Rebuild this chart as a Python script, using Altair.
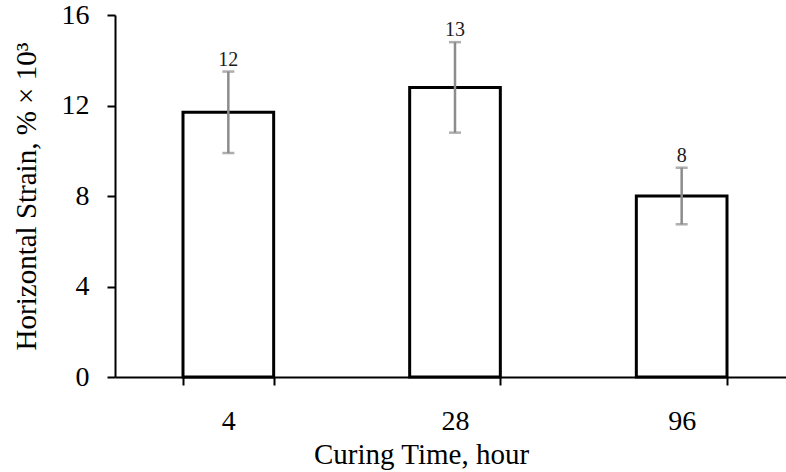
import altair as alt
import pandas as pd

# Curing time groups, mean horizontal strain and its standard deviation
curing_time = ["4", "28", "96"]
strain_mean = [11.7, 12.8, 8.0]
strain_sd = [1.8, 2.0, 1.25]
y_ticks = [0, 4, 8, 12, 16]

df = pd.DataFrame({"time": curing_time, "mean": strain_mean, "sd": strain_sd})
df["lo"] = df["mean"] - df["sd"]
df["hi"] = df["mean"] + df["sd"]

FONT = "'Liberation Serif', 'Times New Roman', serif"
ERR_COLOR = "#8c8c8c"

x = alt.X(
    "time:N",
    sort=curing_time,
    scale=alt.Scale(range=[0, 680], paddingInner=0.6, paddingOuter=0.3),
    axis=alt.Axis(
        title="Curing Time, hour",
        labelAngle=0,
        labelPadding=22,
        tickBand="extent",
        titleX=306,
        titleY=86,
        titleAlign="center",
    ),
)

y_scale = alt.Scale(domain=[0, 16], nice=False)
y_axis = alt.Axis(
    title="Horizontal Strain, % × 10³",
    values=y_ticks,
    labelPadding=18,
    titleX=-80,
)

base = alt.Chart(df)

bars = base.mark_bar(fill="white", stroke="black", strokeWidth=3).encode(
    x=x,
    y=alt.Y("mean:Q", scale=y_scale, axis=y_axis),
)

err_line = base.mark_rule(color=ERR_COLOR, strokeWidth=2.5).encode(
    x=alt.X("time:N", sort=curing_time),
    y="lo:Q",
    y2="hi:Q",
)

cap_hi = base.mark_tick(color=ERR_COLOR, thickness=2.5, size=12, orient="horizontal").encode(
    x=alt.X("time:N", sort=curing_time),
    y="hi:Q",
)
cap_lo = base.mark_tick(color=ERR_COLOR, thickness=2.5, size=12, orient="horizontal").encode(
    x=alt.X("time:N", sort=curing_time),
    y="lo:Q",
)

labels = base.mark_text(
    font=FONT, fontSize=20, color="#1a1a1a", baseline="alphabetic", dy=-6
).encode(
    x=alt.X("time:N", sort=curing_time),
    y="hi:Q",
    text=alt.Text("mean:Q", format=".0f"),
)

chart = (
    alt.layer(bars, err_line, cap_hi, cap_lo, labels)
    .properties(
        width=671,
        height=362,
        autosize=alt.AutoSizeParams(type="none"),
        padding={"left": 115, "top": 15, "right": 0, "bottom": 95},
        background="white",
    )
    .configure(font=FONT)
    .configure_axis(
        labelFont=FONT,
        labelFontSize=28,
        labelColor="black",
        tickSize=8,
        tickWidth=2,
        tickColor="black",
        domainColor="black",
        domainWidth=2,
        titleFont=FONT,
        titleFontSize=29,
        titleFontWeight="normal",
        titleColor="black",
        titleBaseline="alphabetic",
        grid=False,
    )
    .configure_view(stroke=None)
)

chart.save("out.html", embed_options={"renderer": "svg", "actions": False})
